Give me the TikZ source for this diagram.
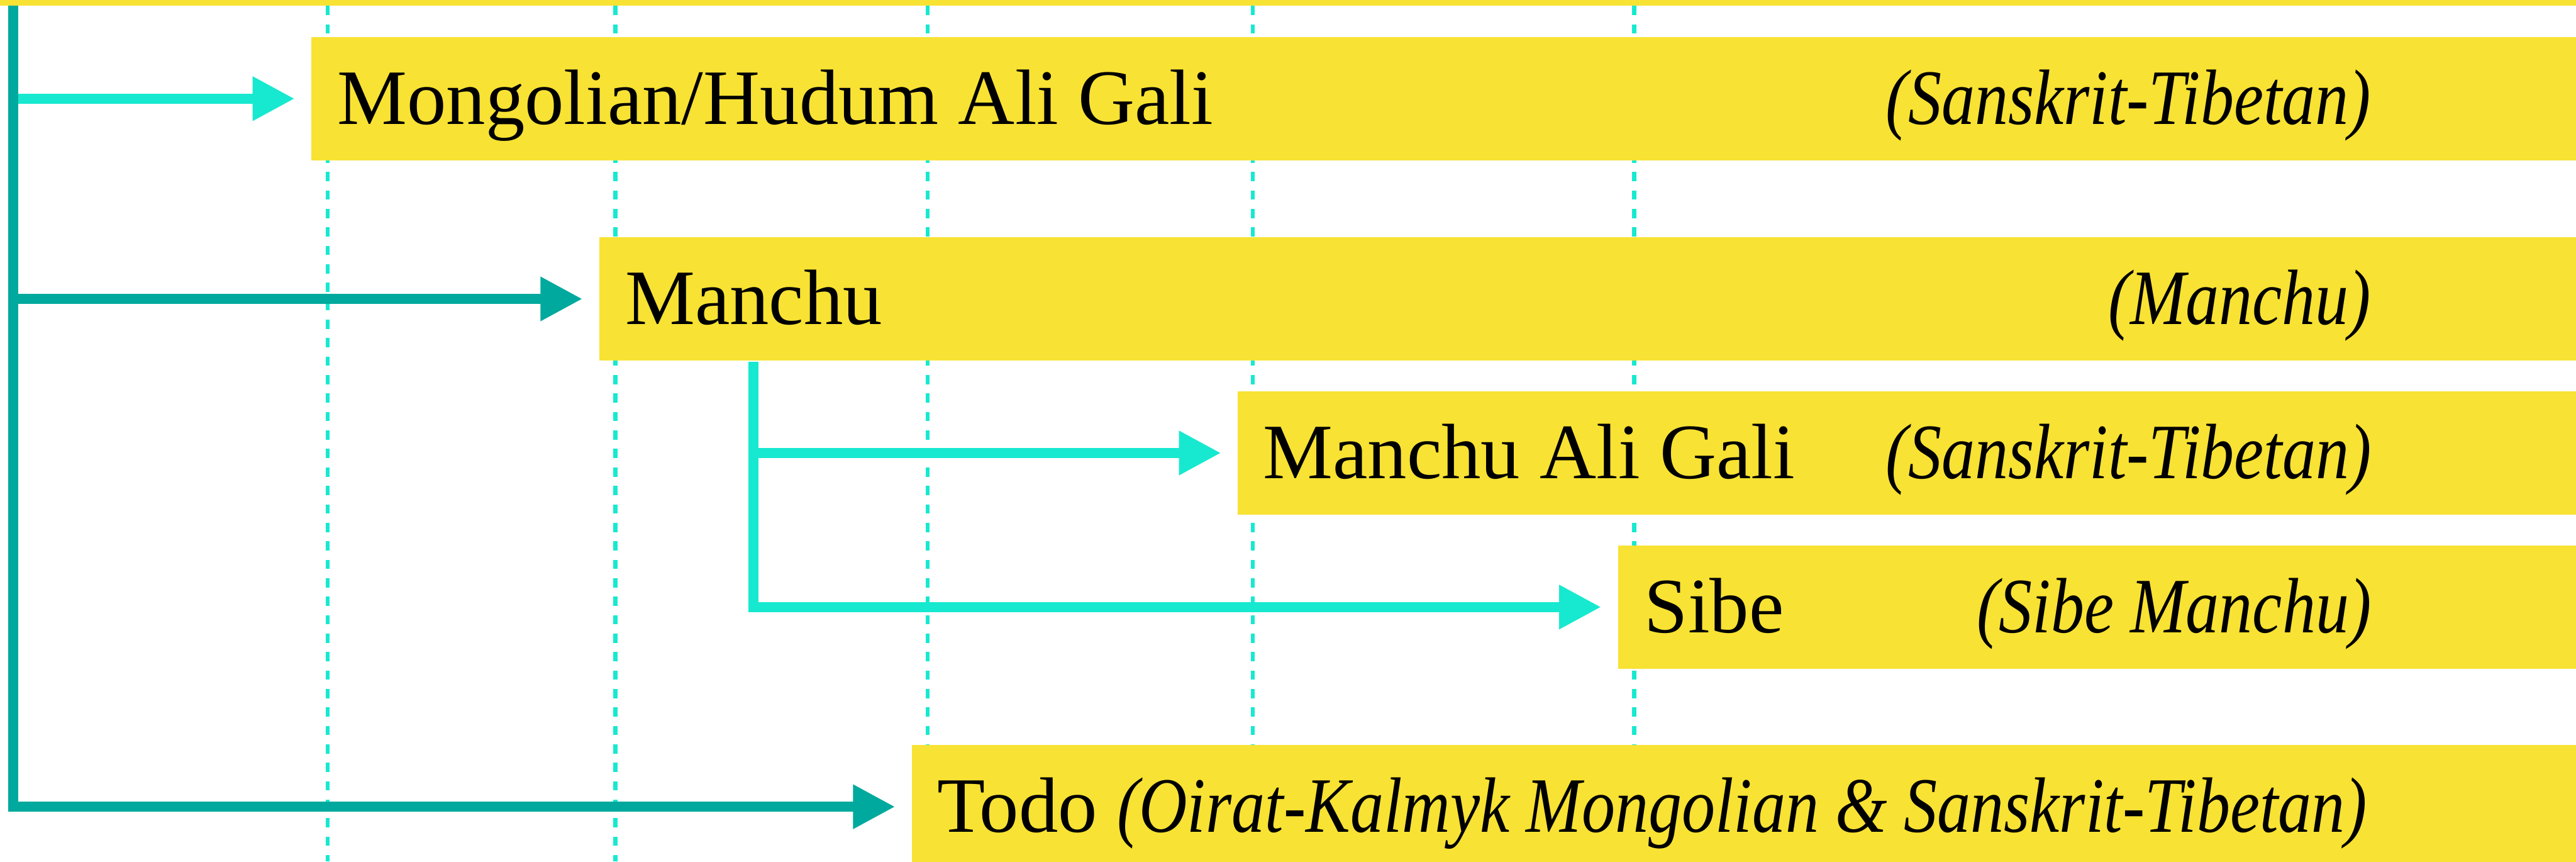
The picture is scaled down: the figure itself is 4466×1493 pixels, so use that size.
\documentclass[tikz,border=0pt]{standalone}
\usepackage{fontspec}
\setmainfont{Liberation Serif}
\usepackage{graphicx}
\usetikzlibrary{arrows.meta,calc}
\definecolor{boxyellow}{HTML}{F8E233}
\definecolor{cyanlite}{HTML}{17E9D0}
\definecolor{tealdark}{HTML}{00A99D}
\newcommand{\itpart}[1]{\scalebox{0.85}[1]{\itshape #1}}
\begin{document}
\begin{tikzpicture}[x=0.1pt,y=-0.1pt,
  box/.style={rectangle, fill=boxyellow, inner sep=0pt, minimum height=21.4pt, anchor=north west},
  lbl/.style={inner sep=0pt, font=\fontsize{13.6}{16}\selectfont, text=black},
  gridline/.style={cyanlite, line width=0.7pt, dash pattern=on 1.6pt off 1.6pt},
  lightarrow/.style={cyanlite, line width=1.8pt, -{Triangle[length=7.3pt,width=7.2pt]}},
  darkarrow/.style={tealdark, line width=1.8pt, -{Triangle[length=7.3pt,width=7.2pt]}}]

\useasboundingbox (0,0) rectangle (4466,1493);

% guide lines
\foreach \gx in {568,1067,1608,2172,2833}
  \draw[gridline] (\gx,10) -- (\gx,1493);

% boxes
\node[box, minimum width=392.8pt] (mon)  at (538,62)   {};
\node[box, minimum width=342.9pt] (man)  at (1037,409) {};
\node[box, minimum width=232.2pt] (mag)  at (2144,676) {};
\node[box, minimum width=166.3pt] (sibe) at (2803,943) {};
\node[box, minimum width=288.7pt] (todo) at (1579,1289) {};

% labels
\node[lbl, anchor=base west] (monN)  at ($(mon.west)+(45,44)$)  {Mongolian/Hudum Ali Gali};
\node[lbl, anchor=base east] (monS)  at ($(mon.east)+(-357,44)$) {\itpart{(Sanskrit-Tibetan)}};
\node[lbl, anchor=base west] (manN)  at ($(man.west)+(45,44)$)  {Manchu};
\node[lbl, anchor=base east] (manS)  at ($(man.east)+(-357,44)$) {\itpart{(Manchu)}};
\node[lbl, anchor=base west] (magN)  at ($(mag.west)+(44,44)$)  {Manchu Ali Gali};
\node[lbl, anchor=base east] (magS)  at ($(mag.east)+(-357,44)$) {\itpart{(Sanskrit-Tibetan)}};
\node[lbl, anchor=base west] (sibeN) at ($(sibe.west)+(46,44)$) {Sibe};
\node[lbl, anchor=base east] (sibeS) at ($(sibe.east)+(-357,44)$) {\itpart{(Sibe Manchu)}};
\node[lbl, anchor=base west] (todoN) at ($(todo.west)+(44,44)$) {Todo \itpart{(Oirat-Kalmyk Mongolian \& Sanskrit-Tibetan)}};

% connectors
\coordinate (trunktop) at (23,0);
\coordinate (branch) at (1306,0);
\draw[lightarrow] (trunktop |- mon.west) -- ($(mon.west)+(-27,0)$);
\draw[lightarrow] (branch |- man.south) |- ($(sibe.west)+(-27,0)$);
\draw[lightarrow] (branch |- mag.west) -- ($(mag.west)+(-27,0)$);
\draw[darkarrow] (trunktop |- man.west) -- ($(man.west)+(-27,0)$);
\draw[darkarrow] (trunktop) |- ($(todo.west)+(-27,0)$);

% top bar
\fill[boxyellow] (0,0) rectangle (4466,10);
\end{tikzpicture}
\end{document}
